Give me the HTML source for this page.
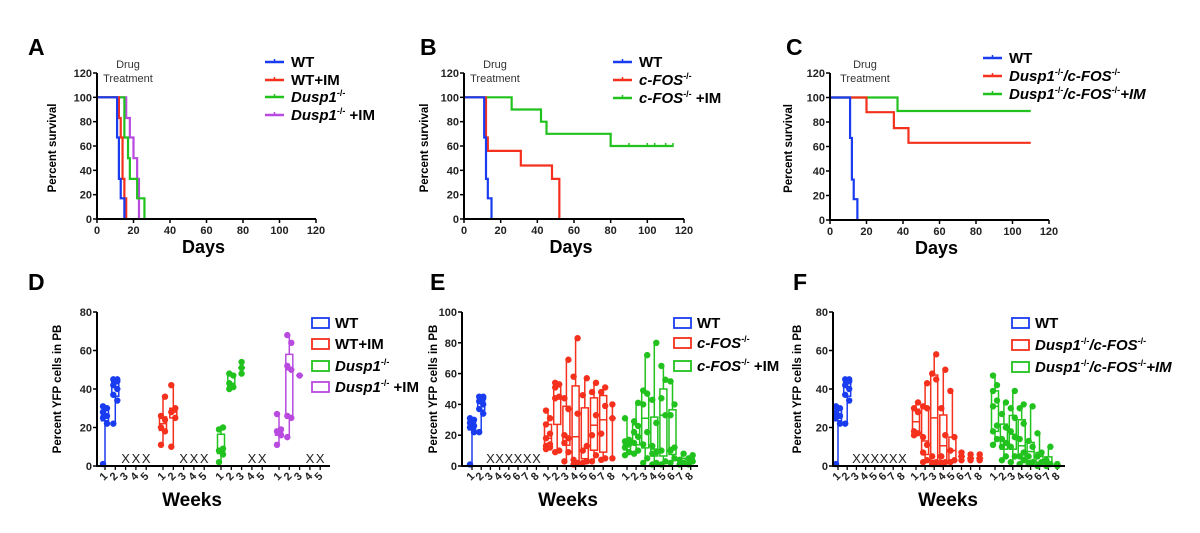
<!DOCTYPE html>
<html><head><meta charset="utf-8">
<style>
html,body{margin:0;padding:0;background:#fff;}
svg{display:block;font-family:"Liberation Sans",Arial,sans-serif;}
.tk{font-size:11px;font-weight:bold;fill:#222;}
</style></head>
<body>
<svg id="fig" width="1200" height="533" viewBox="0 0 1200 533" xmlns="http://www.w3.org/2000/svg"></svg>
<script>
// ---------- Survival data ----------
const daysTicks=[0,20,40,60,80,100,120];
const survTicks=[0,20,40,60,80,100,120];
// A
const A_wt_t=[0,11,12,13,15];      const A_wt_s=[100,67,33,17,0];
const A_wtim_t=[0,12,13,14,15,16]; const A_wtim_s=[100,83,67,33,17,0];
const A_du_t=[0,15,17,18,22,26];   const A_du_s=[100,67,50,33,17,0];
const A_duim_t=[0,16,18,20,22,23]; const A_duim_s=[100,83,67,50,33,0];
// B
const B_wt_t=[0,11,12,13,15];      const B_wt_s=[100,67,33,17,0];
const B_fos_t=[0,12,13,31,48,52];  const B_fos_s=[100,67,56,44,33,0];
const B_fim_t=[0,26,42,45,80,114]; const B_fim_s=[100,90,80,70,60,60];
const B_fim_cens=[90,100,104,110,114];
// C
const C_wt_t=[0,11,12,13,15];      const C_wt_s=[100,67,33,17,0];
const C_df_t=[0,20,35,43,110];     const C_df_s=[100,88,75,63,63];
const C_dfim_t=[0,37,110];         const C_dfim_s=[100,89,89];

// ---------- Box data (YFP %) ----------
const weekLabels=["1","2","3","4","5","6","7","8"];
const D_ticks=[0,20,40,60,80];
const D_wt=[[1,22,25,26,28,30,31],[22,34,37,40,42,44,45,45]];
const D_wtim=[[11,18,20,24,26,36],[10,25,28,30,42]];
const D_du=[[2,6,8,9,19,20],[40,41,43,47,48],[48,51,54]];
const D_duim=[[11,16,18,19,27],[15,25,26,50,52,64,68],[47]];
const D_x_wt=[3,4,5], D_x_wtim=[3,4,5], D_x_du=[4,5], D_x_duim=[4,5];

const E_ticks=[0,20,40,60,80,100];
const E_wt=[[1,22,25,26,28,30,31],[22,34,37,40,42,44,45,45]];
const E_fos=[[11,12,13,14,18,21,27,31,36],[9,10,44,45,51,53,54],[3,9,15,18,20,37,44,69],[1,2,4,34,58,83],[2,3,10,13,46,57],[3,7,20,33,48,54],[4,5,21,39,48,51],[5,31,40]];
const E_fim=[[7,9,12,14,16,17,31],[8,10,15,19,22,26,29,41],[2,5,14,22,40,47,49,72],[1,2,8,9,13,28,43,80],[1,3,10,33,44,56,65],[2,5,10,12,33,40,55],[1,2,4,8],[1,3,5,7]];
const E_x_wt=[3,4,5,6,7,8];

const F_ticks=[0,20,40,60,80];
const F_wt=[[1,22,25,26,28,30,31],[22,34,37,40,42,44,45,45]];
const F_df=[[16,17,18,28,30,33],[2,3,7,11,15,30,31,43],[1,2,5,45,48,58],[1,2,5,16,30,50],[2,3,8,15,39],[3,5,7],[3,4,6],[3,4,6]];
const F_dfim=[[11,14,18,21,31,34,39,42,47],[3,5,10,12,14,20,27,33],[2,5,10,15,18,25,30,39],[1,3,5,7,14,22,30,32],[1,2,5,10,13,31],[0,2,5,7,17],[0,1,3,10],[0,0.5,1]];
const F_x_wt=[3,4,5,6,7,8];

const BLUE="#1a3cf0",RED="#f5301c",GREEN="#22c21e",PURP="#b94ae0";
const svg=document.getElementById('fig');
const NS="http://www.w3.org/2000/svg";
function mk(tag,at,parent){const e=document.createElementNS(NS,tag);for(const k in at)e.setAttribute(k,at[k]);(parent||svg).appendChild(e);return e;}
function txt(x,y,s,at,parent){const e=mk('text',Object.assign({x:x,y:y},at||{}),parent);e.textContent=s;return e;}

// superscript helper: base text, then "-/-" raised, then "after" back on baseline
function it(s){return '<tspan font-style="italic">'+s+'</tspan>';}
function S(after,afterItalic){return '<tspan font-size="9" dy="-6">-/-</tspan><tspan dy="6"'+(afterItalic?' font-style="italic"':'')+'>'+(after||'\u200B')+'</tspan>';}

// panel letters
[["A",28,55],["B",420,55],["C",786,55],["D",28,290],["E",430,290],["F",793,290]].forEach(p=>{
 const t=txt(p[1],p[2],p[0],{'font-size':'23','font-weight':'bold'});
 
 
});

function survPanel(id,ax,series,legend,cfg){
 const g=mk('g',{});
 
 
 const X=v=>ax.x0+(v/120)*(ax.x1-ax.x0);
 const Y=v=>ax.y0-(v/120)*(ax.y0-ax.y1);
 series.forEach(s=>{
  let d="M"+X(s.t[0])+","+Y(s.s[0]);
  for(let i=1;i<s.t.length;i++){d+=" L"+X(s.t[i])+","+Y(s.s[i-1])+" L"+X(s.t[i])+","+Y(s.s[i]);}
  const p=mk('path',{d:d,fill:'none',stroke:s.c,'stroke-width':2.2},g);
  
  
  (s.cens||[]).forEach(c=>{
   const m=mk('line',{x1:X(c),x2:X(c),y1:Y(s.s[s.s.length-1])-3,y2:Y(s.s[s.s.length-1])+1,stroke:s.c,'stroke-width':1.5},g);
   
   
  });
 });
 const axl=mk('path',{d:`M${ax.x0},${Y(120)} L${ax.x0},${ax.y0} L${X(120)},${ax.y0}`,fill:'none',stroke:'#000','stroke-width':2},g);
 
 
 survTicks.forEach(v=>{mk('line',{x1:ax.x0-4,x2:ax.x0,y1:Y(v),y2:Y(v),stroke:'#000','stroke-width':1.5},g);
  const t=txt(ax.x0-5,Y(v)+4,String(v),{'text-anchor':'end','class':'tk'},g);
  
  });
 daysTicks.forEach(v=>{mk('line',{x1:X(v),x2:X(v),y1:ax.y0,y2:ax.y0+4,stroke:'#000','stroke-width':1.5},g);
  const t=txt(X(v),ax.y0+15,String(v),{'text-anchor':'middle','class':'tk'},g);
  
  });
 const xt=txt((ax.x0+X(120))/2-3,ax.y0+34,"Days",{'text-anchor':'middle','font-size':'18','font-weight':'bold'},g);
 
 
 const yt=txt(0,0,"Percent survival",{'text-anchor':'middle','font-size':'11.5','font-weight':'bold',transform:`translate(${cfg.ylx},${(ax.y0+Y(120))/2+2}) rotate(-90)`},g);
 
 
 const dt=txt(cfg.dx,68,"Drug",{'text-anchor':'middle','font-size':'11','fill':'#333'},g);
 
 
 txt(cfg.dx,82,"Treatment",{'text-anchor':'middle','font-size':'11','fill':'#333'},g);
 legend.forEach((L,i)=>{
  const y=cfg.ly[i];
  const lg=mk('g',{},g);
  
  
  mk('line',{x1:cfg.lx,x2:cfg.lx+19,y1:y,y2:y,stroke:L.c,'stroke-width':2.5},lg);
  mk('line',{x1:cfg.lx+9.5,x2:cfg.lx+9.5,y1:y-3,y2:y,stroke:L.c,'stroke-width':1.5},lg);
  const t=mk('text',{x:cfg.lx+26,y:y+5,'font-size':'15','font-weight':'bold'},lg);
  t.innerHTML=L.h;
 });
}

survPanel('a',{x0:97,x1:316,y0:219,y1:73},
 [{t:A_duim_t,s:A_duim_s,c:PURP,n:'dusp1-im'},{t:A_du_t,s:A_du_s,c:GREEN,n:'dusp1'},{t:A_wtim_t,s:A_wtim_s,c:RED,n:'wt-im'},{t:A_wt_t,s:A_wt_s,c:BLUE,n:'wt'}],
 [{c:BLUE,h:'WT'},{c:RED,h:'WT+IM'},{c:GREEN,h:it('Dusp1')+S('')},{c:PURP,h:it('Dusp1')+S(' +IM')}],
 {ylx:56,dx:128,lx:265,ly:[62,80,97,115]});
survPanel('b',{x0:464,x1:684,y0:219,y1:73},
 [{t:B_fim_t,s:B_fim_s,c:GREEN,n:'cfos-im',cens:B_fim_cens},{t:B_fos_t,s:B_fos_s,c:RED,n:'cfos'},{t:B_wt_t,s:B_wt_s,c:BLUE,n:'wt'}],
 [{c:BLUE,h:'WT'},{c:RED,h:it('c-FOS')+S('')},{c:GREEN,h:it('c-FOS')+S(' +IM')}],
 {ylx:428,dx:495,lx:613,ly:[62,80,98]});
survPanel('c',{x0:830,x1:1049,y0:220,y1:73},
 [{t:C_dfim_t,s:C_dfim_s,c:GREEN,n:'dusp1-cfos-im'},{t:C_df_t,s:C_df_s,c:RED,n:'dusp1-cfos'},{t:C_wt_t,s:C_wt_s,c:BLUE,n:'wt'}],
 [{c:BLUE,h:'WT'},{c:RED,h:it('Dusp1')+S('/c-FOS',true)+'<tspan font-size="9" dy="-6">-/-</tspan>'},{c:GREEN,h:it('Dusp1')+S('/c-FOS',true)+S('+IM',true)}],
 {ylx:792,dx:865,lx:983,ly:[58,76,94]});

function q(arr,p){const a=arr.slice().sort((x,y)=>x-y);const i=(a.length-1)*p;const lo=Math.floor(i),hi=Math.ceil(i);return a[lo]+(a[hi]-a[lo])*(i-lo);}

function boxPanel(id,ax,ymax,ticks,groups,legend,cfg){
 const g=mk('g',{});
 
 
 const Y=v=>ax.y0-(v/ymax)*(ax.y0-ax.y1);
 groups.forEach(G=>{
  for(let w=0;w<G.nWeeks;w++){
   const x=G.start+w*G.sp;
   mk('line',{x1:x,x2:x,y1:ax.y0,y2:ax.y0+4,stroke:'#000','stroke-width':1.3},g);
   const t=txt(0,0,weekLabels[w],{'class':'tk','text-anchor':'middle',transform:`translate(${x+1},${ax.y0+13}) rotate(-45)`},g);
   
   
  }
  G.data.forEach((pts,w)=>{
   const x=G.start+w*G.sp;
   const bg=mk('g',{},g);
   
   
   const mn=Math.min(...pts),mx=Math.max(...pts);
   mk('line',{x1:x,x2:x,y1:Y(mn),y2:Y(mx),stroke:G.c,'stroke-width':1.5},bg);
   if(pts.length>=4){
    const q1=q(pts,.25),q3=q(pts,.75);
    mk('rect',{x:x-3.5,y:Y(q3),width:7,height:Math.max(1,Y(q1)-Y(q3)),fill:'#fff',stroke:G.c,'stroke-width':1.5},bg);
   }
   const md=q(pts,.5);
   mk('line',{x1:x-3.5,x2:x+3.5,y1:Y(md),y2:Y(md),stroke:G.c,'stroke-width':1.5},bg);
   pts.forEach((v,i)=>{
    const c=mk('circle',{cx:x+((i%2)?2:-2)*(pts.length>3?1:0),cy:Y(v),r:3.2,fill:G.c},bg);
    
    
   });
  });
  (G.xs||[]).forEach(w=>{
   const t=txt(G.start+(w-1)*G.sp,ax.y0-3,"X",{'text-anchor':'middle','font-size':'13','fill':'#222'},g);
   
   
  });
 });
 const axl=mk('path',{d:`M${ax.x0},${ax.y1} L${ax.x0},${ax.y0} L${ax.x1},${ax.y0}`,fill:'none',stroke:'#000','stroke-width':2},g);
 
 
 ticks.forEach(v=>{mk('line',{x1:ax.x0-4,x2:ax.x0,y1:Y(v),y2:Y(v),stroke:'#000','stroke-width':1.5},g);
  const t=txt(ax.x0-5,Y(v)+4,String(v),{'text-anchor':'end','class':'tk'},g);
  
  });
 const xt=txt(cfg.wx,506,"Weeks",{'text-anchor':'middle','font-size':'19','font-weight':'bold'},g);
 
 
 const yt=txt(0,0,"Percent YFP cells in PB",{'text-anchor':'middle','font-size':'11.5','font-weight':'bold',transform:`translate(${cfg.ylx},${(ax.y0+ax.y1)/2}) rotate(-90)`},g);
 
 
 legend.forEach((L,i)=>{
  const y=cfg.ly[i];
  const lg=mk('g',{},g);
  
  
  mk('rect',{x:cfg.lx,y:y-5,width:17,height:10,fill:'#fff',stroke:L.c,'stroke-width':1.8},lg);
  const t=mk('text',{x:cfg.lx+23,y:y+5,'font-size':'15','font-weight':'bold'},lg);
  t.innerHTML=L.h;
 });
}

boxPanel('d',{x0:97,x1:330,y0:466,y1:312},80,D_ticks,
 [{n:'wt',c:BLUE,start:105,sp:10.3,nWeeks:5,data:D_wt,xs:D_x_wt},
  {n:'wt-im',c:RED,start:163,sp:10.3,nWeeks:5,data:D_wtim,xs:D_x_wtim},
  {n:'dusp1',c:GREEN,start:221,sp:10.3,nWeeks:5,data:D_du,xs:D_x_du},
  {n:'dusp1-im',c:PURP,start:279,sp:10.3,nWeeks:5,data:D_duim,xs:D_x_duim}],
 [{c:BLUE,h:'WT'},{c:RED,h:'WT+IM'},{c:GREEN,h:it('Dusp1')+S('')},{c:PURP,h:it('Dusp1')+S(' +IM')}],
 {wx:192,ylx:61,lx:312,ly:[323,344,366,387]});

boxPanel('e',{x0:462,x1:698,y0:466,y1:312},100,E_ticks,
 [{n:'wt',c:BLUE,start:472,sp:9.2,nWeeks:8,data:E_wt,xs:E_x_wt},
  {n:'cfos',c:RED,start:548,sp:9.2,nWeeks:8,data:E_fos},
  {n:'cfos-im',c:GREEN,start:627,sp:9.1,nWeeks:8,data:E_fim}],
 [{c:BLUE,h:'WT'},{c:RED,h:it('c-FOS')+S('')},{c:GREEN,h:it('c-FOS')+S(' +IM')}],
 {wx:568,ylx:437,lx:674,ly:[323,343,366]});

boxPanel('f',{x0:833,x1:1065,y0:466,y1:312},80,F_ticks,
 [{n:'wt',c:BLUE,start:838,sp:9.2,nWeeks:8,data:F_wt,xs:F_x_wt},
  {n:'dusp1-cfos',c:RED,start:916,sp:9.1,nWeeks:8,data:F_df},
  {n:'dusp1-cfos-im',c:GREEN,start:995,sp:8.9,nWeeks:8,data:F_dfim}],
 [{c:BLUE,h:'WT'},{c:RED,h:it('Dusp1')+S('/c-FOS',true)+'<tspan font-size="9" dy="-6">-/-</tspan>'},{c:GREEN,h:it('Dusp1')+S('/c-FOS',true)+S('+IM',true)}],
 {wx:948,ylx:801,lx:1012,ly:[323,345,367]});
</script>
</body></html>
